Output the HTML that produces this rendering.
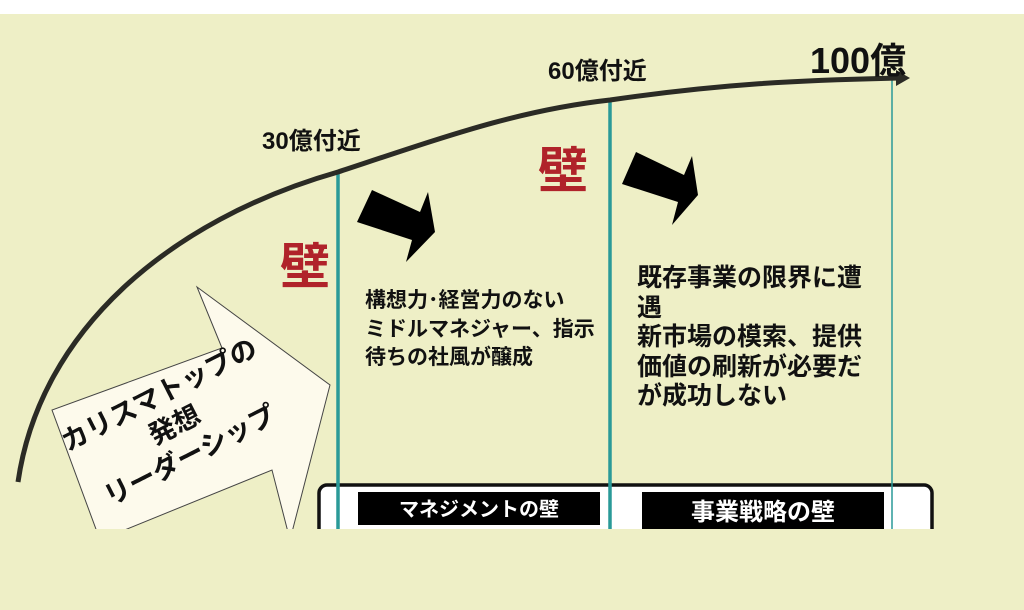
<!DOCTYPE html>
<html><head><meta charset="utf-8"><style>
body{margin:0;width:1024px;height:610px;overflow:hidden;background:#fff;font-family:"Liberation Sans","Noto Sans CJK JP",sans-serif;}
#bg{position:absolute;left:0;top:14px;width:1024px;height:596px;background:#eeefc6;}
.t{position:absolute;font-weight:bold;color:#111;white-space:nowrap;}
.b{position:absolute;font-weight:bold;color:#111;white-space:nowrap;}
.w{position:absolute;color:#b0232a;font-size:50px;font-weight:bold;line-height:1;}
</style></head><body>
<div id="bg"></div>
<svg width="1024" height="610" style="position:absolute;left:0;top:0">
<defs><clipPath id="c"><rect x="0" y="0" width="1024" height="529"/></clipPath></defs>
<g clip-path="url(#c)">
<rect x="319" y="485" width="613" height="60" rx="8" fill="#fff" stroke="#111" stroke-width="3.5"/>
<rect x="358" y="492" width="242" height="33" fill="#000"/>
<rect x="642" y="492" width="242" height="40" fill="#000"/>
<text x="479" y="516" fill="#fff" font-size="20" font-weight="bold" text-anchor="middle" font-family="Liberation Sans,Noto Sans CJK JP,sans-serif">マネジメントの壁</text>
<text x="763" y="520" fill="#fff" font-size="24" font-weight="bold" text-anchor="middle" font-family="Liberation Sans,Noto Sans CJK JP,sans-serif">事業戦略の壁</text>
<line x1="338" y1="172" x2="338" y2="529" stroke="#2a9a98" stroke-width="3.5"/>
<line x1="610" y1="100" x2="610" y2="529" stroke="#2a9a98" stroke-width="3.5"/>
<line x1="892" y1="78" x2="892" y2="529" stroke="#2a9a98" stroke-width="1.5"/>
<path d="M18,482 C40,330 170,220 338,172 C450,135 520,110 610,100 C720,84 800,80 900,78" fill="none" stroke="#2b2b25" stroke-width="5"/>
<polygon points="896,70 910,78 896,86" fill="#2b2b25"/>
<polygon points="197,287 330,385 290,540 272,470 100,540 52,410 222,348" fill="#fdfaec" stroke="#444" stroke-width="1"/>
<polygon points="372,190 357,222 412,240 406,262 435,232 428,192 420,212" fill="#000"/>
<polygon points="636,152 622,184 678,202 672,225 698,195 692,156 684,175" fill="#000"/>
</g>
<g transform="translate(176,428) rotate(-27)" font-family="Liberation Sans,Noto Sans CJK JP,sans-serif" font-weight="bold" font-size="27" fill="#111" text-anchor="middle">
<text x="0" y="-28">カリスマトップの</text>
<text x="0" y="6">発想</text>
<text x="0" y="40">リーダーシップ</text>
</g>
</svg>
<div class="t" style="left:262px;top:121px;font-size:24px">30億付近</div>
<div class="t" style="left:548px;top:51px;font-size:24px">60億付近</div>
<div class="t" style="left:810px;top:32px;font-size:36px">100億</div>
<div class="w" style="left:280px;top:242px">壁</div>
<div class="w" style="left:538px;top:146px">壁</div>
<div class="b" style="left:365px;top:287px;font-size:21px;line-height:28.5px">構想力･経営力のない<br>ミドルマネジャー、指示<br>待ちの社風が醸成</div>
<div class="b" style="left:637px;top:264px;font-size:25px;line-height:29.5px">既存事業の限界に遭<br>遇<br>新市場の模索、提供<br>価値の刷新が必要だ<br>が成功しない</div>
</body></html>
